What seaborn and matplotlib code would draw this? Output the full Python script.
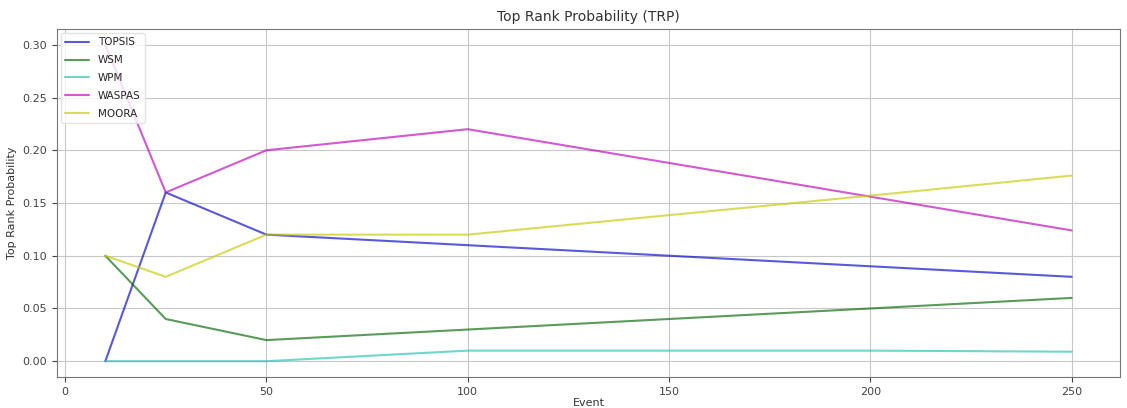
import matplotlib
matplotlib.use("Agg")
import matplotlib.pyplot as plt
import seaborn as sns
import pandas as pd

events = [10, 25, 50, 100, 200, 250]
topsis = [0.0, 0.16, 0.12, 0.11, 0.09, 0.08]
wsm = [0.10, 0.04, 0.02, 0.03, 0.05, 0.06]
wpm = [0.0, 0.0, 0.0, 0.01, 0.01, 0.009]
waspas = [0.30, 0.16, 0.20, 0.22, 0.156, 0.124]
moora = [0.10, 0.08, 0.12, 0.12, 0.157, 0.176]

methods = ["TOPSIS", "WSM", "WPM", "WASPAS", "MOORA"]
series = [topsis, wsm, wpm, waspas, moora]
colors = ["#0000cc", "#006600", "#20c0b0", "#bb00bb", "#c8c800"]

rows = []
for m, vals in zip(methods, series):
    for e, v in zip(events, vals):
        rows.append({"Event": e, "Top Rank Probability": v, "Method": m})
df = pd.DataFrame(rows)

sns.set_style("ticks")
plt.rcParams['font.family'] = ['DejaVu Sans']

fig = plt.figure(figsize=(11.27, 4.08), dpi=100)
ax = fig.add_axes([57/1127, 1 - 377/408, (1120-57)/1127, (377-29)/408])

sns.lineplot(data=df, x="Event", y="Top Rank Probability", hue="Method",
             hue_order=methods, palette=dict(zip(methods, colors)),
             alpha=0.65, linewidth=1.5, ax=ax)

ax.grid(True, color="#c8c8c8", linewidth=0.8)
ax.set_title("Top Rank Probability (TRP)", fontsize=10, color="#333333")
ax.set_xlabel("Event", fontsize=8, color="#333333", labelpad=1)
ax.set_ylabel("Top Rank Probability", fontsize=8, color="#333333")
ax.tick_params(labelsize=8, colors="#444444")
ax.set_xticks([0, 50, 100, 150, 200, 250])
ax.set_yticks([0.0, 0.05, 0.10, 0.15, 0.20, 0.25, 0.30])
ax.set_yticklabels(["0.00", "0.05", "0.10", "0.15", "0.20", "0.25", "0.30"])
for s in ax.spines.values():
    s.set_color("#777777")
leg = ax.legend(loc="upper left", fontsize=7.5, frameon=True, borderaxespad=0.4,
                labelspacing=0.75, handlelength=2.3)
leg.get_frame().set_edgecolor("#dddddd")

fig.savefig("out.png", dpi=100)
